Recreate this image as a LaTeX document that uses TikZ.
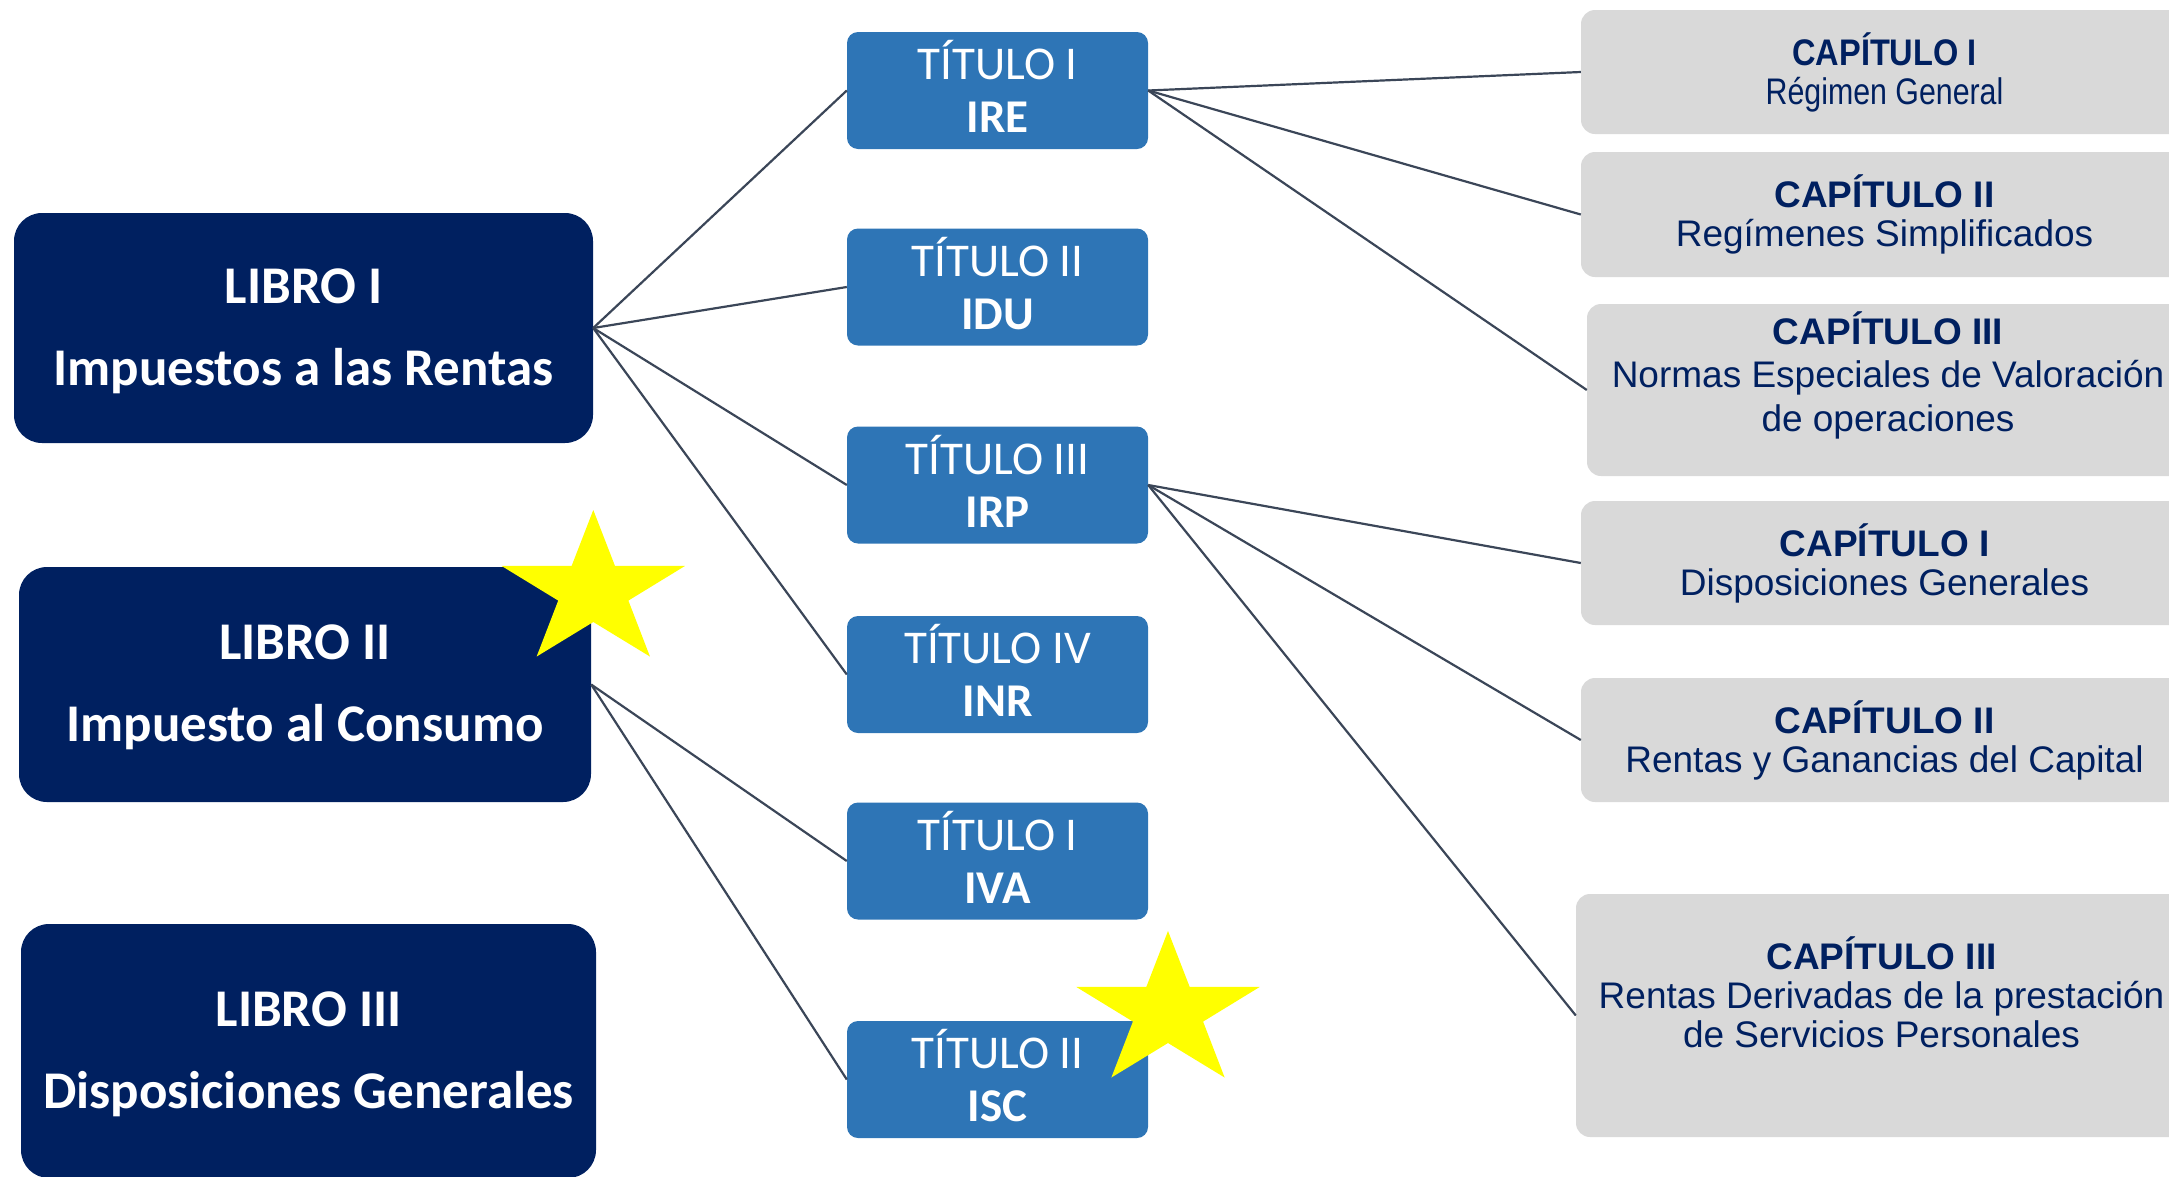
\documentclass[tikz,border=0pt]{standalone}
\usepackage{fontspec}
\setmainfont{Carlito}
\newfontfamily\arialfont{Liberation Sans}
\definecolor{libronavy}{HTML}{002060}
\definecolor{tituloblue}{HTML}{2E75B6}
\definecolor{capgray}{HTML}{D9D9D9}
\definecolor{linkgray}{HTML}{3B4658}
\definecolor{staryellow}{HTML}{FFFF00}

\begin{document}
\begin{tikzpicture}[x=1pt,y=-1pt,
  libro/.style={rectangle,rounded corners=28pt,fill=libronavy,text=white,
    font=\fontsize{53}{82}\selectfont\bfseries,align=center,inner sep=0pt,
    text depth=2pt},
  titulo/.style={rectangle,rounded corners=11pt,fill=tituloblue,text=white,
    font=\fontsize{47}{53}\selectfont,align=center,text depth=8pt,
    minimum width=301pt,minimum height=117pt,inner sep=0pt},
  capitulo/.style={rectangle,rounded corners=14pt,fill=capgray,text=libronavy,
    font=\arialfont\fontsize{37}{39}\selectfont,align=center,inner sep=0pt},
  link/.style={draw=linkgray,line width=2.2pt},
  starfill/.style={fill=staryellow}]
\useasboundingbox (0,0) rectangle (2169,1176);

\node[libro,minimum width=579pt,minimum height=230pt] (libroI) at (303.5,328)
  {LIBRO I\\Impuestos a las Rentas};
\node[libro,minimum width=572pt,minimum height=235pt] (libroII) at (305,684.5)
  {LIBRO II\\Impuesto al Consumo};
\node[libro,minimum width=575pt,minimum height=254pt] (libroIII) at (308.5,1051)
  {LIBRO III\\Disposiciones Generales};

\node[titulo] (tituloIRE) at (997.5,90.5) {TÍTULO I\\\textbf{IRE}};
\node[titulo] (tituloIDU) at (997.5,287) {TÍTULO II\\\textbf{IDU}};
\node[titulo] (tituloIRP) at (997.5,485) {TÍTULO III\\\textbf{IRP}};
\node[titulo] (tituloINR) at (997.5,674.5) {TÍTULO IV\\\textbf{INR}};
\node[titulo] (tituloIVA) at (997.5,861) {TÍTULO I\\\textbf{IVA}};
\node[titulo] (tituloISC) at (997.5,1079.5) {TÍTULO II\\\textbf{ISC}};

\node[capitulo,minimum width=607pt,minimum height=124pt] (capIreI) at (1884.5,72)
  {\scalebox{0.88}[1]{\textbf{CAPÍTULO I}}\\\scalebox{0.82}[1]{Régimen General}};
\node[capitulo,minimum width=607pt,minimum height=125pt] (capIreII) at (1884.5,214.5)
  {\textbf{CAPÍTULO II}\\Regímenes Simplificados};
\node[capitulo,minimum width=602pt,minimum height=172pt,text depth=37pt,
  font=\arialfont\fontsize{37}{43.6}\selectfont] (capIreIII) at (1888,390)
  {\textbf{CAPÍTULO III}\\Normas Especiales de Valoración\\de operaciones};
\node[capitulo,minimum width=607pt,minimum height=124pt] (capIrpI) at (1884.5,563)
  {\textbf{CAPÍTULO I}\\Disposiciones Generales};
\node[capitulo,minimum width=607pt,minimum height=124pt] (capIrpII) at (1884.5,740)
  {\textbf{CAPÍTULO II}\\Rentas y Ganancias del Capital};
\node[capitulo,minimum width=611pt,minimum height=243pt,text depth=46pt] (capIrpIII) at (1881.5,1015.5)
  {\textbf{CAPÍTULO III}\\Rentas Derivadas de la prestación\\de Servicios Personales};

\draw[link] (libroI.east) -- (tituloIRE.west);
\draw[link] (libroI.east) -- (tituloIDU.west);
\draw[link] (libroI.east) -- (tituloIRP.west);
\draw[link] (libroI.east) -- (tituloINR.west);
\draw[link] (libroII.east) -- (tituloIVA.west);
\draw[link] (libroII.east) -- (tituloISC.west);
\draw[link] (tituloIRE.east) -- (capIreI.west);
\draw[link] (tituloIRE.east) -- (capIreII.west);
\draw[link] (tituloIRE.east) -- (capIreIII.west);
\draw[link] (tituloIRP.east) -- (capIrpI.west);
\draw[link] (tituloIRP.east) -- (capIrpII.west);
\draw[link] (tituloIRP.east) -- (capIrpIII.west);

\foreach \sx/\sy in {593.3/591,1168/1012}
  \fill[starfill,shift={(\sx,\sy)},xscale=1.19]
    (90:81pt) -- (126:31pt) -- (162:81pt) -- (198:31pt) -- (234:81pt)
    -- (270:31pt) -- (306:81pt) -- (342:31pt) -- (18:81pt) -- (54:31pt) -- cycle;
\end{tikzpicture}
\end{document}
